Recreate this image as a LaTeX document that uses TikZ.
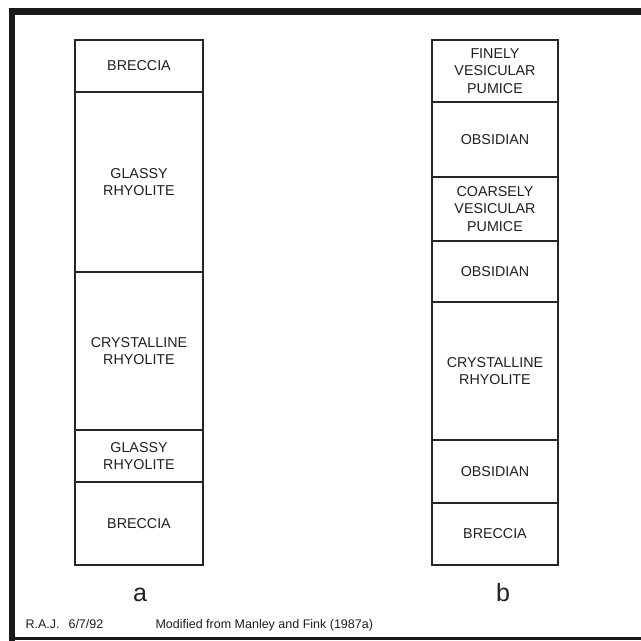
\documentclass[tikz,border=0pt]{standalone}
\usepackage{fontspec}
\setmainfont{Liberation Sans}
\begin{document}
\begin{tikzpicture}[x=1pt,y=-1pt,
  layer/.style={draw=black!85,line width=1.3pt,inner sep=0pt,align=center,
    font=\fontsize{14.3}{17.5}\selectfont,text=black!88},
  collabel/.style={font=\fontsize{25}{25}\selectfont,text=black!88,anchor=base},
  foot/.style={font=\fontsize{12.5}{14}\selectfont,text=black!88,anchor=base west},
  frame/.style={draw=black!90}]
\useasboundingbox (0,0) rectangle (641,641);
\fill[white] (0,0) rectangle (641,641);
% frame
\draw[frame,line width=7pt] (12,11.5) -- (641,11.5);
\draw[frame,line width=6pt] (12,8) -- (12,641);
\draw[frame,line width=2.5pt] (9,638.5) -- (641,638.5);
% column a
\node[layer,minimum width=128pt,minimum height=52pt] (a1) at (139,66) {BRECCIA};
\node[layer,minimum width=128pt,minimum height=180pt] (a2) at (139,182) {GLASSY\\RHYOLITE};
\node[layer,minimum width=128pt,minimum height=158pt] (a3) at (139,351) {CRYSTALLINE\\RHYOLITE};
\node[layer,minimum width=128pt,minimum height=52pt] (a4) at (139,456) {GLASSY\\RHYOLITE};
\node[layer,minimum width=128pt,minimum height=83pt] (a5) at (139,523.5) {BRECCIA};
% column b
\node[layer,minimum width=126pt,minimum height=62pt] (b1) at (495,71) {FINELY\\VESICULAR\\PUMICE};
\node[layer,minimum width=126pt,minimum height=75pt] (b2) at (495,139.5) {OBSIDIAN};
\node[layer,minimum width=126pt,minimum height=64pt] (b3) at (495,209) {COARSELY\\VESICULAR\\PUMICE};
\node[layer,minimum width=126pt,minimum height=61pt] (b4) at (495,271.5) {OBSIDIAN};
\node[layer,minimum width=126pt,minimum height=138pt] (b5) at (495,371) {CRYSTALLINE\\RHYOLITE};
\node[layer,minimum width=126pt,minimum height=63pt] (b6) at (495,471.5) {OBSIDIAN};
\node[layer,minimum width=126pt,minimum height=62pt] (b7) at (495,534) {BRECCIA};
% labels
\node[collabel] (la) at (140,601) {a};
\node[collabel] (lb) at (503,601) {b};
\node[foot] (raj) at (22,628) {R.A.J.\hspace{9pt}6/7/92};
\node[foot] (mod) at (152,628) {Modified from Manley and Fink (1987a)};
\end{tikzpicture}
\end{document}
